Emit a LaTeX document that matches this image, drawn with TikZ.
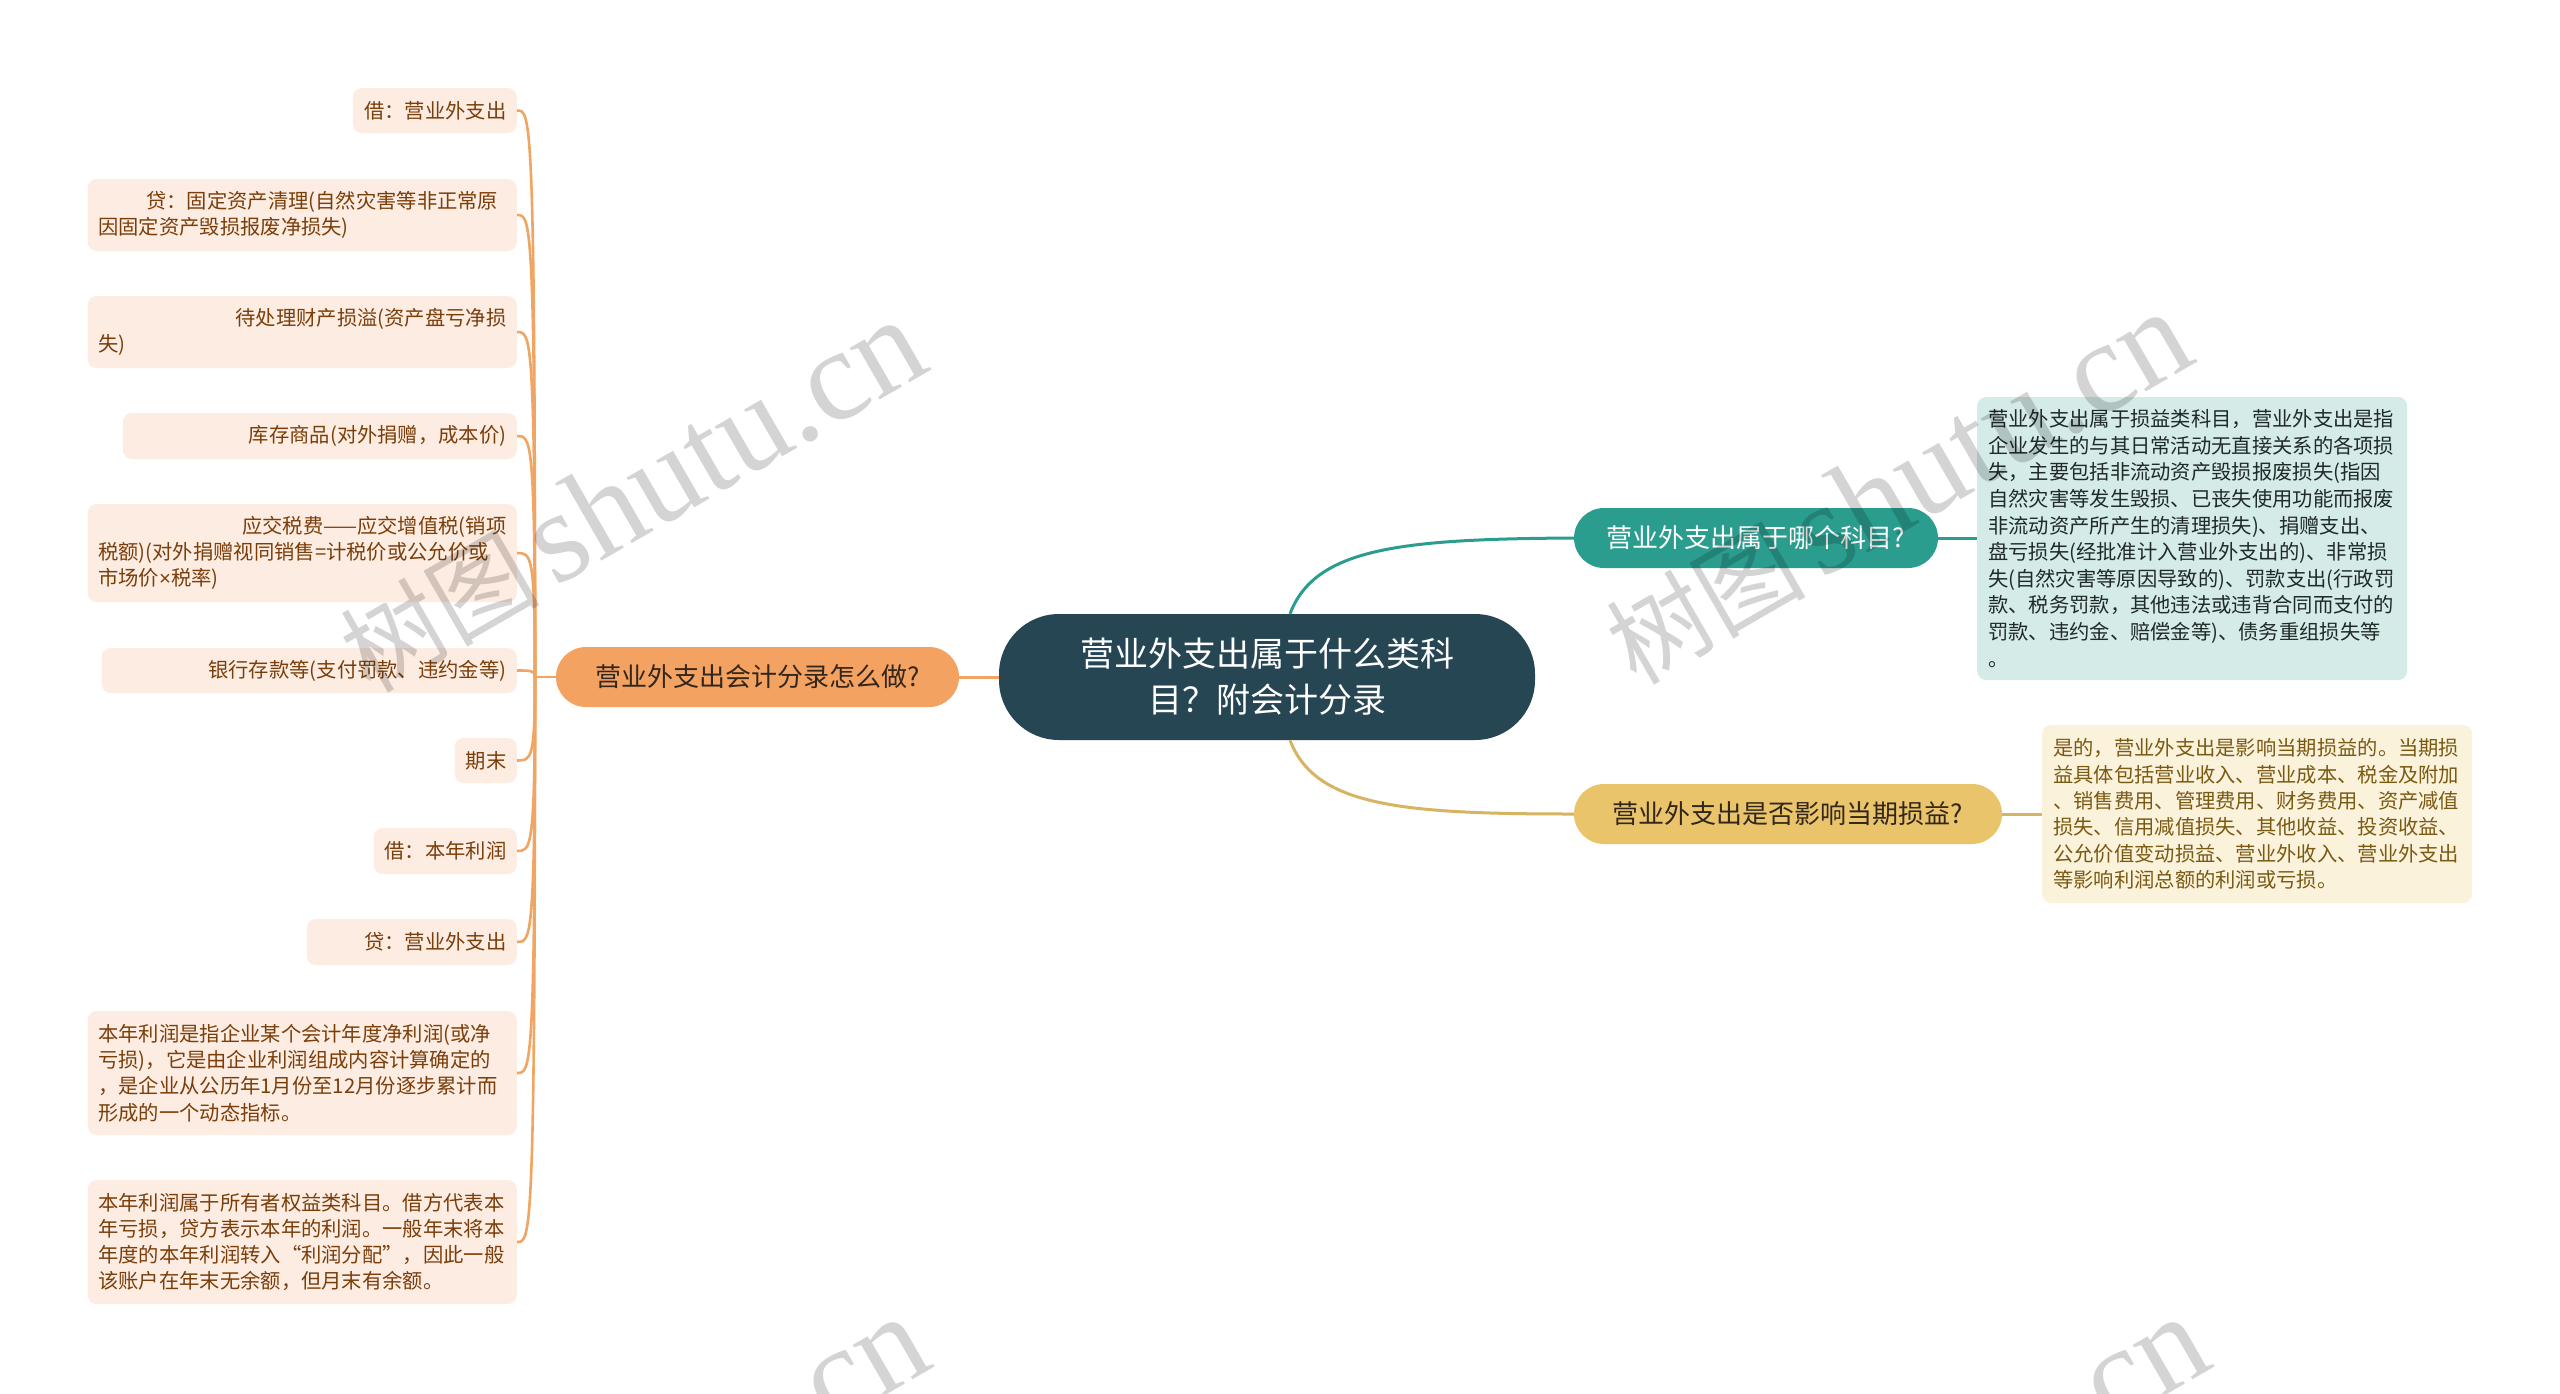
\documentclass[tikz,border=0pt]{standalone}
\usepackage{fontspec}
\setmainfont{Noto Sans CJK SC}
\newfontfamily\wmserif{Liberation Serif}
\newfontfamily\latinsans{Liberation Sans}
\usetikzlibrary{calc}
\definecolor{cdark}{HTML}{264653}
\definecolor{cteal}{HTML}{2A9D8F}
\definecolor{cyellow}{HTML}{E9C46A}
\definecolor{corange}{HTML}{F4A261}
\definecolor{lconncol}{HTML}{F1A563}
\definecolor{leaffill}{HTML}{FDECE1}
\definecolor{leaftext}{HTML}{7A3E0A}
\definecolor{tealbg}{HTML}{D5EBE8}
\definecolor{tealtext}{HTML}{1F2A29}
\definecolor{creambg}{HTML}{FBF2DC}
\definecolor{creamtext}{HTML}{7A5A12}
\definecolor{darktext}{HTML}{33261A}
\begin{document}
\begin{tikzpicture}[x=1pt,y=-1pt,
  mainnode/.style={fill=cdark, text=white, rounded corners=60pt, minimum width=536pt, minimum height=126pt, inner sep=0pt, font=\fontsize{34}{46}\selectfont, align=center},
  topic/.style={rounded corners=30pt, minimum height=60pt, inner sep=0pt, font=\fontsize{26}{30}\selectfont},
  leafbase/.style={fill=leaffill, rounded corners=9pt, text=leaftext, font=\fontsize{20.3}{26.3}\selectfont, inner xsep=10.5pt, inner ysep=0pt, anchor=east},
  mleaf/.style={leafbase, text width=408pt, align=left},
  sleaf/.style={leafbase, align=right},
  rbox/.style={rounded corners=9pt, inner xsep=11pt, inner ysep=0pt, text width=408pt, align=left, font=\fontsize{20.3}{26.6}\selectfont},
  mconn/.style={line width=3pt},
  lconn/.style={line width=2.6pt, draw=lconncol},
  wm/.style={text=black, text opacity=0.17, anchor=base west, rotate=30, inner sep=0pt}
]
\useasboundingbox (0,0) rectangle (2560,1393);
\fill[white] (0,0) rectangle (2560,1393);

% central and topics
\node[mainnode] (C) at (1267,677) {营业外支出属于什么类科\\目？附会计分录};
\node[topic, fill=corange, text=darktext, minimum width=403pt] (O) at (757.5,677) {营业外支出会计分录怎么做?};
\node[topic, fill=cteal, text=white, minimum width=364pt] (T) at (1756,538) {营业外支出属于哪个科目?};
\node[topic, fill=cyellow, text=darktext, minimum width=428pt] (Y) at (1788,814) {营业外支出是否影响当期损益?};

% right detail boxes
\node[rbox, fill=tealbg, text=tealtext, minimum height=283pt, anchor=west] (R1) at (1977,538.5) {营业外支出属于损益类科目，营业外支出是指\\企业发生的与其日常活动无直接关系的各项损\\失，主要包括非流动资产毁损报废损失(指因\\自然灾害等发生毁损、已丧失使用功能而报废\\非流动资产所产生的清理损失)、捐赠支出、\\盘亏损失(经批准计入营业外支出的)、非常损\\失(自然灾害等原因导致的)、罚款支出(行政罚\\款、税务罚款，其他违法或违背合同而支付的\\罚款、违约金、赔偿金等)、债务重组损失等\\。};
\node[rbox, fill=creambg, text=creamtext, minimum height=178pt, font=\fontsize{20.3}{26.3}\selectfont, anchor=west] (R2) at (2042,814) {是的，营业外支出是影响当期损益的。当期损\\益具体包括营业收入、营业成本、税金及附加\\、销售费用、管理费用、财务费用、资产减值\\损失、信用减值损失、其他收益、投资收益、\\公允价值变动损益、营业外收入、营业外支出\\等影响利润总额的利润或亏损。};

% leaves
\node[sleaf, text width=143pt, minimum height=45pt] (l1) at (517,110.5) {借：营业外支出};
\node[mleaf, minimum height=72pt] (l2) at (517,215) {\hspace*{48pt}贷：固定资产清理(自然灾害等非正常原\\因固定资产毁损报废净损失)};
\node[mleaf, minimum height=72pt] (l3) at (517,332) {\hfill 待处理财产损溢(资产盘亏净损\\失)};
\node[sleaf, text width=373pt, minimum height=46pt] (l4) at (517,436) {库存商品(对外捐赠，成本价)};
\node[mleaf, minimum height=98pt] (l5) at (517,553) {\hfill 应交税费——应交增值税(销项\\税额)(对外捐赠视同销售=计税价或公允价或\\市场价{\latinsans ×}税率)};
\node[sleaf, text width=394pt, minimum height=45pt] (l6) at (517,670.5) {银行存款等(支付罚款、违约金等)};
\node[sleaf, text width=41pt, minimum height=45pt] (l7) at (517,760.5) {期末};
\node[sleaf, text width=122pt, minimum height=46pt] (l8) at (517,851) {借：本年利润};
\node[sleaf, text width=189pt, minimum height=46pt] (l9) at (517,942) {贷：营业外支出};
\node[mleaf, minimum height=124pt] (l10) at (517,1073) {本年利润是指企业某个会计年度净利润(或净\\亏损)，它是由企业利润组成内容计算确定的\\，是企业从公历年1月份至12月份逐步累计而\\形成的一个动态指标。};
\node[mleaf, minimum height=124pt] (l11) at (517,1242) {本年利润属于所有者权益类科目。借方代表本\\年亏损，贷方表示本年的利润。一般年末将本\\年度的本年利润转入“利润分配”，因此一般\\该账户在年末无余额，但月末有余额。};

% connectors
\coordinate (J) at (535,677);
\coordinate (Ct) at ($(C.north)+(23,0)$);
\coordinate (Cb) at ($(C.south)+(23,0)$);
\draw[mconn, draw=corange] (C.west) -- (O.east);
\draw[mconn, draw=cteal] (Ct) .. controls (1315,548) and (1400,539) .. (T.west);
\draw[mconn, draw=cyellow!92!black] (Cb) .. controls (1315,806) and (1400,814) .. (Y.west);
\draw[mconn, draw=cteal] (T.east) -- (R1.west |- T.east);
\draw[mconn, draw=cyellow!92!black] (Y.east) -- (R2.west |- Y.east);
\draw[lconn] (O.west) -- (J);
\foreach \i in {1,...,11}
  \draw[lconn] (J) .. controls (J |- l\i.east) and ($(l\i.east)+(14,0)$) .. (l\i.east);

% watermarks
\begin{scope}
\clip (0,0) rectangle (2560,1393);
\foreach \p/\nm in {{(370,695)}/wma, {(1636,687)}/wmb, {(373,1692)}/wmc, {(1653,1692)}/wmd}
  \node[wm] (\nm) at \p {\fontsize{100}{100}\selectfont 树图\hspace{14pt}{\wmserif\fontsize{130}{130}\selectfont shutu.cn}};
\end{scope}
\end{tikzpicture}
\end{document}
